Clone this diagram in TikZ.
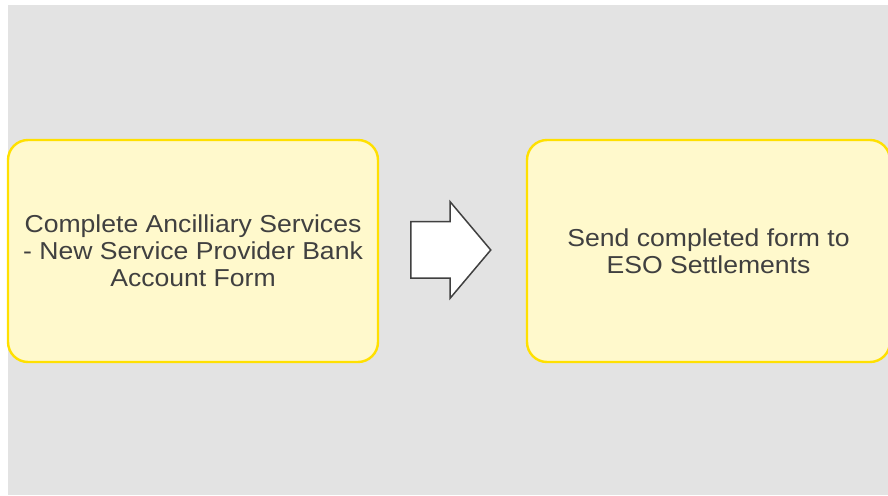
\documentclass[tikz,border=0pt]{standalone}
\usepackage{fontspec}
\setmainfont{Liberation Sans}[FakeStretch=1.085]
\usepackage{tikz}
\usepackage{xcolor}
\usetikzlibrary{positioning, shapes.arrows}
\definecolor{bggrey}{HTML}{E3E3E3}
\definecolor{boxfill}{HTML}{FFF9CC}
\definecolor{boxline}{HTML}{FFE000}
\definecolor{txtgrey}{HTML}{404040}
\tikzset{procbox/.style={draw=boxline, line width=2.4pt, fill=boxfill, rounded corners=20pt,
    minimum width=370pt, minimum height=222pt, inner sep=0pt, align=center, text=txtgrey,
    font=\fontsize{24.5}{27}\selectfont},
  flowarrow/.style={single arrow, draw=txtgrey, line width=1.5pt, fill=white,
    minimum height=80pt, minimum width=95pt, single arrow head extend=20pt,
    single arrow tip angle=99.8, inner xsep=0pt, inner ysep=27.5pt,
    text height=0pt, text depth=0pt}}

\begin{document}
\begin{tikzpicture}[x=1pt, y=1pt]
\useasboundingbox (0,0) rectangle (888,495);
\fill[bggrey] (8,0) rectangle (888,490);
\node[procbox] (stepA) at (193,244) {Complete Ancilliary Services\\- New Service Provider Bank\\Account Form};
\node[procbox, minimum width=363pt] (stepB) at (708.5,244) {Send completed form to\\ESO Settlements};
\node[flowarrow, anchor=tail] (arr) at (410,245) {};
\end{tikzpicture}
\end{document}
